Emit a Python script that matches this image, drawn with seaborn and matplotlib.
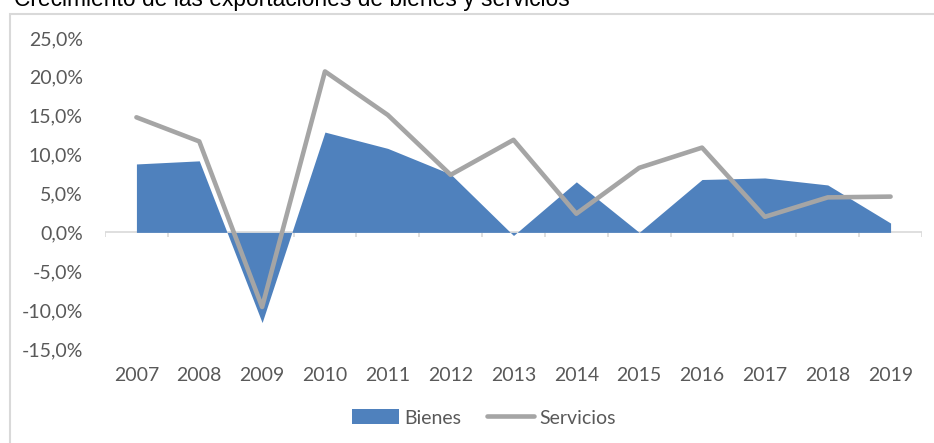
import matplotlib
matplotlib.use('Agg')
import matplotlib.pyplot as plt
import matplotlib.ticker as mticker
from matplotlib.patches import Patch, Rectangle
from matplotlib.lines import Line2D
import pandas as pd
import seaborn as sns

# Data (percent growth)
years = ['2007', '2008', '2009', '2010', '2011', '2012', '2013',
         '2014', '2015', '2016', '2017', '2018', '2019']
bienes = [8.8, 9.2, -11.6, 12.9, 10.8, 7.5, -0.4, 6.5, 0.0, 6.8, 7.0, 6.1, 1.2]
servicios = [14.8, 11.7, -9.6, 20.7, 15.1, 7.4, 11.9, 2.4, 8.3, 10.9, 2.0, 4.5, 4.6]
yticks = [-15, -10, -5, 0, 5, 10, 15, 20, 25]

df = pd.DataFrame({'year': years, 'pos': range(len(years)),
                   'Bienes': bienes, 'Servicios': servicios})

sns.set_theme(style='white')
plt.rcParams['font.family'] = ['Lato', 'DejaVu Sans']

blue = '#4F81BD'
grey = '#A5A5A5'
txt = '#595959'

fig = plt.figure(figsize=(9.34, 4.43), dpi=100)
W, H = 934, 443
ax = fig.add_axes([105 / W, 1 - 349 / H, (922 - 105) / W, (349 - 38) / H])

# area series (seaborn has no area plot, so fill under the data)
ax.fill_between(df['pos'], 0, df['Bienes'], color=blue, linewidth=0, zorder=2)
# line series
sns.lineplot(data=df, x='pos', y='Servicios', ax=ax, color=grey, linewidth=3.3,
             solid_capstyle='round', zorder=3)

ax.set_xlim(-0.5, len(years) - 0.5)
ax.set_ylim(-15, 25)
ax.set_yticks(yticks)
ax.yaxis.set_major_formatter(mticker.FuncFormatter(lambda v, p: f'{v:.1f}%'.replace('.', ',')))
ax.set_xticks(df['pos'])
ax.set_xticklabels(years)
ax.tick_params(axis='both', length=0, labelsize=14, colors=txt)
ax.tick_params(axis='y', pad=16)
ax.tick_params(axis='x', pad=13)
ax.set_xlabel('')
ax.set_ylabel('')
for s in ax.spines.values():
    s.set_visible(False)
ax.grid(False)

# category axis at zero with boundary tick marks
ax.axhline(0, color='#D9D9D9', linewidth=1.2, zorder=1)
ax.vlines([i - 0.5 for i in range(len(years) + 1)], -0.65, 0,
          color='#D9D9D9', linewidth=1.2, zorder=1)

# legend
handles = [Patch(facecolor=blue, edgecolor='none'),
           Line2D([0], [0], color=grey, linewidth=3.3)]
fig.legend(handles, ['Bienes', 'Servicios'], loc='center', ncol=2,
           bbox_to_anchor=(484 / W, 1 - 418 / H), frameon=False,
           fontsize=14, labelcolor=txt, handlelength=2.4, handleheight=0.8,
           handletextpad=0.3, columnspacing=1.3)

# chart frame (partly cropped in the reference)
fig.patches.append(Rectangle((10 / W, -0.1), 1.0, 1 - 14 / H + 0.1,
                             transform=fig.transFigure, fill=False,
                             edgecolor='#D9D9D9', linewidth=1.5))

# title, cropped at top edge as in the reference
fig.text(14 / W, 1 - 6 / H, 'Crecimiento de las exportaciones de bienes y servicios',
         fontsize=16.4, color='black', family=['Liberation Sans', 'DejaVu Sans'],
         ha='left', va='baseline')

fig.savefig('out.png', dpi=100)
